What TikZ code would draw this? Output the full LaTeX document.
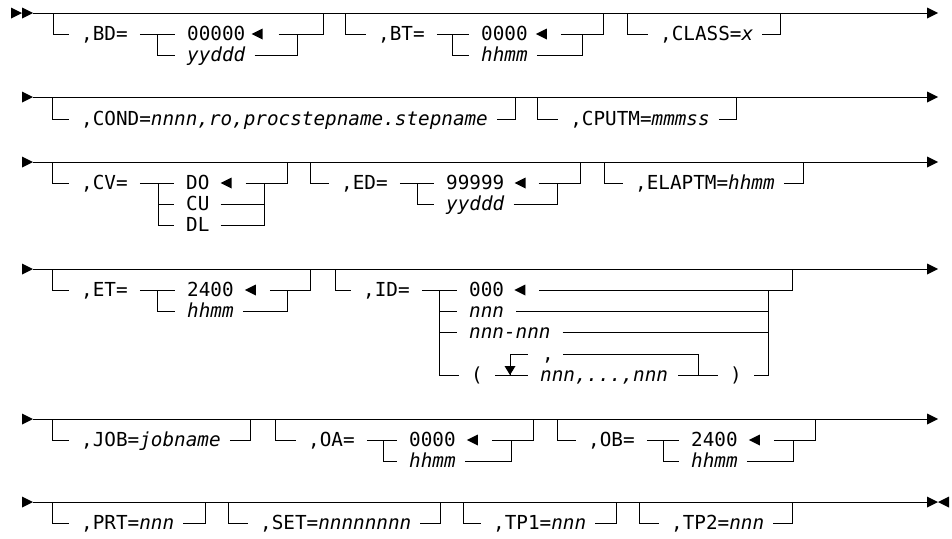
\documentclass[tikz,border=0pt]{standalone}
\usepackage{fontspec}
\setmainfont{DejaVu Sans Mono}

\tikzset{
  rail/.style={line width=1pt},
  lbl/.style={anchor=west, inner sep=0pt, text height=13.5pt, text depth=0pt,
    font=\fontsize{19.3}{21}\selectfont},
}
% filled arrow heads
\newcommand{\lefttip}[1]{\fill (#1) -- ++(11,-5.5) -- ++(0,11) -- cycle;}
\newcommand{\righttip}[1]{\fill (#1) -- ++(-11,-5.5) -- ++(0,11) -- cycle;}

\begin{document}
\begin{tikzpicture}[x=1pt,y=-1pt]
  \useasboundingbox (0,0) rectangle (952,538);

  % ---------------- Row 1 ----------------
  \coordinate (r1s) at (33,13);
  \coordinate (r1e) at (927,13);
  \draw[rail] (r1s) -- (r1e);
  \righttip{22,13}
  \righttip{33,13}
  \righttip{938,13}

  % BD
  \node[lbl] (bd) at (81,34) {,BD=};
  \node[lbl] (bd0) at (187,34) {00000};
  \node[lbl] (bdy) at (187,55) {\itshape yyddd};
  \draw[rail] (53,13) |- ([xshift=-12pt]bd.west);
  \draw[rail] ([xshift=12pt]bd.east) -- ([xshift=-12pt]bd0.west);
  \draw[rail] (157,34) |- ([xshift=-12pt]bdy.west);
  \lefttip{[xshift=6pt]bd0.east}
  \draw[rail] ([xshift=33pt]bd0.east) -| (323,13);
  \draw[rail] ([xshift=9pt]bdy.east) -| (297,34);

  % BT
  \node[lbl] (bt) at (378,34) {,BT=};
  \node[lbl] (bt0) at (481,34) {0000};
  \node[lbl] (bth) at (481,55) {\itshape hhmm};
  \draw[rail] (345,13) |- ([xshift=-12pt]bt.west);
  \draw[rail] ([xshift=12pt]bt.east) -- ([xshift=-12pt]bt0.west);
  \draw[rail] (452,34) |- ([xshift=-12pt]bth.west);
  \lefttip{[xshift=8pt]bt0.east}
  \draw[rail] ([xshift=33pt]bt0.east) -| (603,13);
  \draw[rail] ([xshift=9pt]bth.east) -| (582,34);

  % CLASS
  \node[lbl] (class) at (660,34) {,CLASS=\itshape x};
  \draw[rail] (627,13) |- ([xshift=-12pt]class.west);
  \draw[rail] ([xshift=9pt]class.east) -| (780,13);

  % ---------------- Row 2 ----------------
  \coordinate (r2s) at (33,97);
  \coordinate (r2e) at (927,97);
  \draw[rail] (r2s) -- (r2e);
  \righttip{33,97}
  \righttip{938,97}

  % COND
  \node[lbl] (cond) at (81,119) {,COND=\itshape nnnn,ro,procstepname.stepname};
  \draw[rail] (52,97) |- ([xshift=-12pt]cond.west);
  \draw[rail] ([xshift=9pt]cond.east) -| ([xshift=27pt]cond.east |- r2s);

  % CPUTM
  \node[lbl] (cputm) at ([xshift=82pt]cond.east) {,CPUTM=\itshape mmmss};
  \draw[rail] ([xshift=-33pt]cputm.west |- r2s) |- ([xshift=-12pt]cputm.west);
  \draw[rail] ([xshift=9pt]cputm.east) -| ([xshift=27pt]cputm.east |- r2s);

  % ---------------- Row 3 ----------------
  \coordinate (r3s) at (33,162);
  \coordinate (r3e) at (927,162);
  \draw[rail] (r3s) -- (r3e);
  \righttip{33,162}
  \righttip{938,162}

  % CV
  \node[lbl] (cv) at (81,183) {,CV=};
  \node[lbl] (cvdo) at (186,183) {DO};
  \node[lbl] (cvcu) at (186,204) {CU};
  \node[lbl] (cvdl) at (186,225) {DL};
  \draw[rail] (52,162) |- ([xshift=-12pt]cv.west);
  \draw[rail] ([xshift=12pt]cv.east) -- ([xshift=-12pt]cvdo.west);
  \draw[rail] (158,183) |- ([xshift=-12pt]cvdl.west);
  \draw[rail] (158,204) -- ([xshift=-12pt]cvcu.west);
  \lefttip{[xshift=11pt]cvdo.east}
  \draw[rail] ([xshift=36pt]cvdo.east) -| (287,162);
  \draw[rail] ([xshift=11pt]cvdl.east) -| (264,183);
  \draw[rail] ([xshift=11pt]cvcu.east) -- (264,204);

  % ED
  \node[lbl] (ed) at (341,183) {,ED=};
  \node[lbl] (ed9) at (446,183) {99999};
  \node[lbl] (edy) at (446,204) {\itshape yyddd};
  \draw[rail] (310,162) |- ([xshift=-12pt]ed.west);
  \draw[rail] ([xshift=12pt]ed.east) -- ([xshift=-12pt]ed9.west);
  \draw[rail] (417,183) |- ([xshift=-12pt]edy.west);
  \lefttip{[xshift=10pt]ed9.east}
  \draw[rail] ([xshift=34pt]ed9.east) -| (580,162);
  \draw[rail] ([xshift=9pt]edy.east) -| (557,183);

  % ELAPTM
  \node[lbl] (elap) at (635,183) {,ELAPTM=\itshape hhmm};
  \draw[rail] (604,162) |- ([xshift=-12pt]elap.west);
  \draw[rail] ([xshift=9pt]elap.east) -| (803,162);

  % ---------------- Row 4 ----------------
  \coordinate (r4s) at (33,269);
  \coordinate (r4e) at (927,269);
  \draw[rail] (r4s) -- (r4e);
  \righttip{33,269}
  \righttip{938,269}

  % ET
  \node[lbl] (et) at (81,290) {,ET=};
  \node[lbl] (et0) at (187,290) {2400};
  \node[lbl] (eth) at (187,311) {\itshape hhmm};
  \draw[rail] (52,269) |- ([xshift=-12pt]et.west);
  \draw[rail] ([xshift=12pt]et.east) -- ([xshift=-12pt]et0.west);
  \draw[rail] (157,290) |- ([xshift=-12pt]eth.west);
  \lefttip{[xshift=11pt]et0.east}
  \draw[rail] ([xshift=36pt]et0.east) -| (310,269);
  \draw[rail] ([xshift=9pt]eth.east) -| (287,290);

  % ID
  \node[lbl] (id) at (363,290) {,ID=};
  \node[lbl] (id0) at (469,290) {000};
  \node[lbl] (idn) at (469,311) {\itshape nnn};
  \node[lbl] (idr) at (469,332) {\itshape nnn-nnn};
  \node[lbl] (idl) at (471,375) {(};
  \node[lbl] (idsep) at (542,354) {,};
  \node[lbl] (idlist) at (540,375) {\itshape nnn,...,nnn};
  \node[lbl] (idr2) at (730,375) {)};
  \draw[rail] (335,269) |- ([xshift=-12pt]id.west);
  \draw[rail] ([xshift=12pt]id.east) -- ([xshift=-12pt]id0.west);
  \draw[rail] (439,290) |- ([xshift=-12pt]idl.west);
  \draw[rail] (439,311) -- ([xshift=-12pt]idn.west);
  \draw[rail] (439,332) -- ([xshift=-12pt]idr.west);
  \lefttip{[xshift=10pt]id0.east}
  \draw[rail] ([xshift=35pt]id0.east) -| (792,269);
  \draw[rail] ([xshift=12pt]idn.east) -- (768,311);
  \draw[rail] ([xshift=12pt]idr.east) -- (768,332);
  \draw[rail] ([xshift=12pt]idr2.east) -| (768,290);
  % repeat loop
  \draw[rail] ([xshift=12pt]idl.east) -- ([xshift=-12pt]idlist.west);
  \draw[rail] (510,375) |- (528,354);
  \draw[rail] (563,354) -| (698,375);
  \draw[rail] ([xshift=10pt]idlist.east) -- ([xshift=-12pt]idr2.west);
  \fill (510,375) -- ++(-5.5,-9) -- ++(11,0) -- cycle;

  % ---------------- Row 5 ----------------
  \coordinate (r5s) at (33,419);
  \coordinate (r5e) at (927,419);
  \draw[rail] (r5s) -- (r5e);
  \righttip{33,419}
  \righttip{938,419}

  % JOB
  \node[lbl] (job) at (81,440) {,JOB=\itshape jobname};
  \draw[rail] (52,419) |- ([xshift=-12pt]job.west);
  \draw[rail] ([xshift=9pt]job.east) -| (250,419);

  % OA
  \node[lbl] (oa) at (308,440) {,OA=};
  \node[lbl] (oa0) at (409,440) {0000};
  \node[lbl] (oah) at (409,461) {\itshape hhmm};
  \draw[rail] (275,419) |- ([xshift=-12pt]oa.west);
  \draw[rail] ([xshift=12pt]oa.east) -- ([xshift=-12pt]oa0.west);
  \draw[rail] (383,440) |- ([xshift=-12pt]oah.west);
  \lefttip{[xshift=11pt]oa0.east}
  \draw[rail] ([xshift=36pt]oa0.east) -| (533,419);
  \draw[rail] ([xshift=9pt]oah.east) -| (511,440);

  % OB
  \node[lbl] (ob) at (588,440) {,OB=};
  \node[lbl] (ob0) at (691,440) {2400};
  \node[lbl] (obh) at (691,461) {\itshape hhmm};
  \draw[rail] (557,419) |- ([xshift=-12pt]ob.west);
  \draw[rail] ([xshift=12pt]ob.east) -- ([xshift=-12pt]ob0.west);
  \draw[rail] (663,440) |- ([xshift=-12pt]obh.west);
  \lefttip{[xshift=11pt]ob0.east}
  \draw[rail] ([xshift=36pt]ob0.east) -| (815,419);
  \draw[rail] ([xshift=9pt]obh.east) -| (793,440);

  % ---------------- Row 6 ----------------
  \coordinate (r6s) at (33,502);
  \coordinate (r6e) at (927,502);
  \draw[rail] (r6s) -- (r6e);
  \righttip{33,502}
  \righttip{938,502}
  \lefttip{938,502}

  % PRT, SET, TP1, TP2
  \node[lbl] (prt) at (81,523) {,PRT=\itshape nnn};
  \node[lbl] (set) at (260,523) {,SET=\itshape nnnnnnnn};
  \node[lbl] (tpa) at (493,523) {,TP1=\itshape nnn};
  \node[lbl] (tpb) at (671,523) {,TP2=\itshape nnn};
  \draw[rail] (52,502) |- ([xshift=-12pt]prt.west);
  \draw[rail] ([xshift=9pt]prt.east) -| (205,502);
  \draw[rail] (228,502) |- ([xshift=-12pt]set.west);
  \draw[rail] ([xshift=9pt]set.east) -| (440,502);
  \draw[rail] (463,502) |- ([xshift=-12pt]tpa.west);
  \draw[rail] ([xshift=9pt]tpa.east) -| (616,502);
  \draw[rail] (639,502) |- ([xshift=-12pt]tpb.west);
  \draw[rail] ([xshift=9pt]tpb.east) -| (792,502);
\end{tikzpicture}
\end{document}
